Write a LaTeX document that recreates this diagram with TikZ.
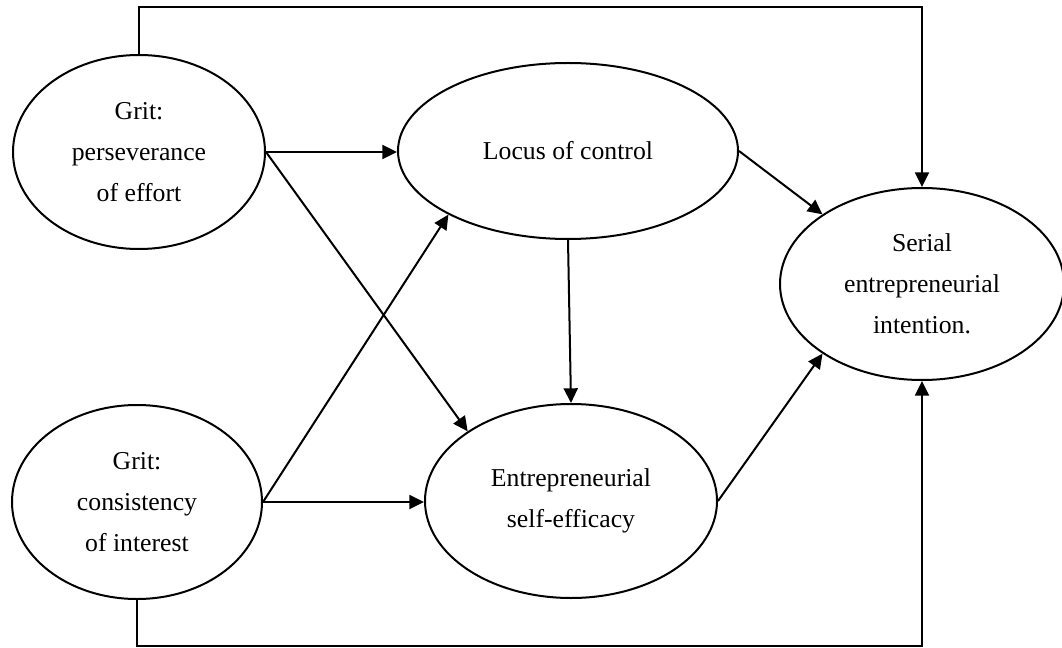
\documentclass[tikz,border=0pt]{standalone}
\usepackage{fontspec}
\setmainfont{Liberation Serif}
\usetikzlibrary{arrows.meta, shapes.geometric}

\begin{document}
\begin{tikzpicture}[x=0.75pt, y=-0.75pt,
  construct/.style={draw, ellipse, line width=1.5pt, inner sep=0pt,
    align=center, font=\fontsize{19.3}{30.75}\selectfont},
  arr/.style={line width=1.5pt, -{Triangle[length=11pt, width=10.5pt]}},
]
  \useasboundingbox (0,0) rectangle (1062,648);
  \node[construct, minimum width=189pt, minimum height=145.5pt] (gp) at (139,152) {Grit:\\perseverance\\of effort};
  \node[construct, minimum width=187.5pt, minimum height=145.5pt] (gc) at (137,502) {Grit:\\consistency\\of interest};
  \node[construct, minimum width=255pt, minimum height=132pt] (loc) at (568,151) {Locus of control};
  \node[construct, minimum width=219pt, minimum height=145.5pt] (ese) at (571,501) {Entrepreneurial\\self-efficacy};
  \node[construct, minimum width=213pt, minimum height=144pt] (ser) at (922,284) {Serial\\entrepreneurial\\intention.};
  \coordinate (topy) at (0,7);
  \coordinate (boty) at (0,646);

  \draw[arr] (gp.east) -- (gp.east -| loc.west);
  \draw[arr] (gp.east) -- (ese.146);
  \draw[arr] (gc.east) -- (loc.208);
  \draw[arr] (gc.east) -- (gc.east -| ese.west);
  \draw[arr] (loc.south) -- (ese.north);
  \draw[arr] (loc.east) -- (ser.145);
  \draw[arr] (ese.east) -- (ser.215);
  \draw[arr] (gp.north) -- (gp.north |- topy) -| (ser.north);
  \draw[arr] (gc.south) -- (gc.south |- boty) -| (ser.south);
\end{tikzpicture}
\end{document}
